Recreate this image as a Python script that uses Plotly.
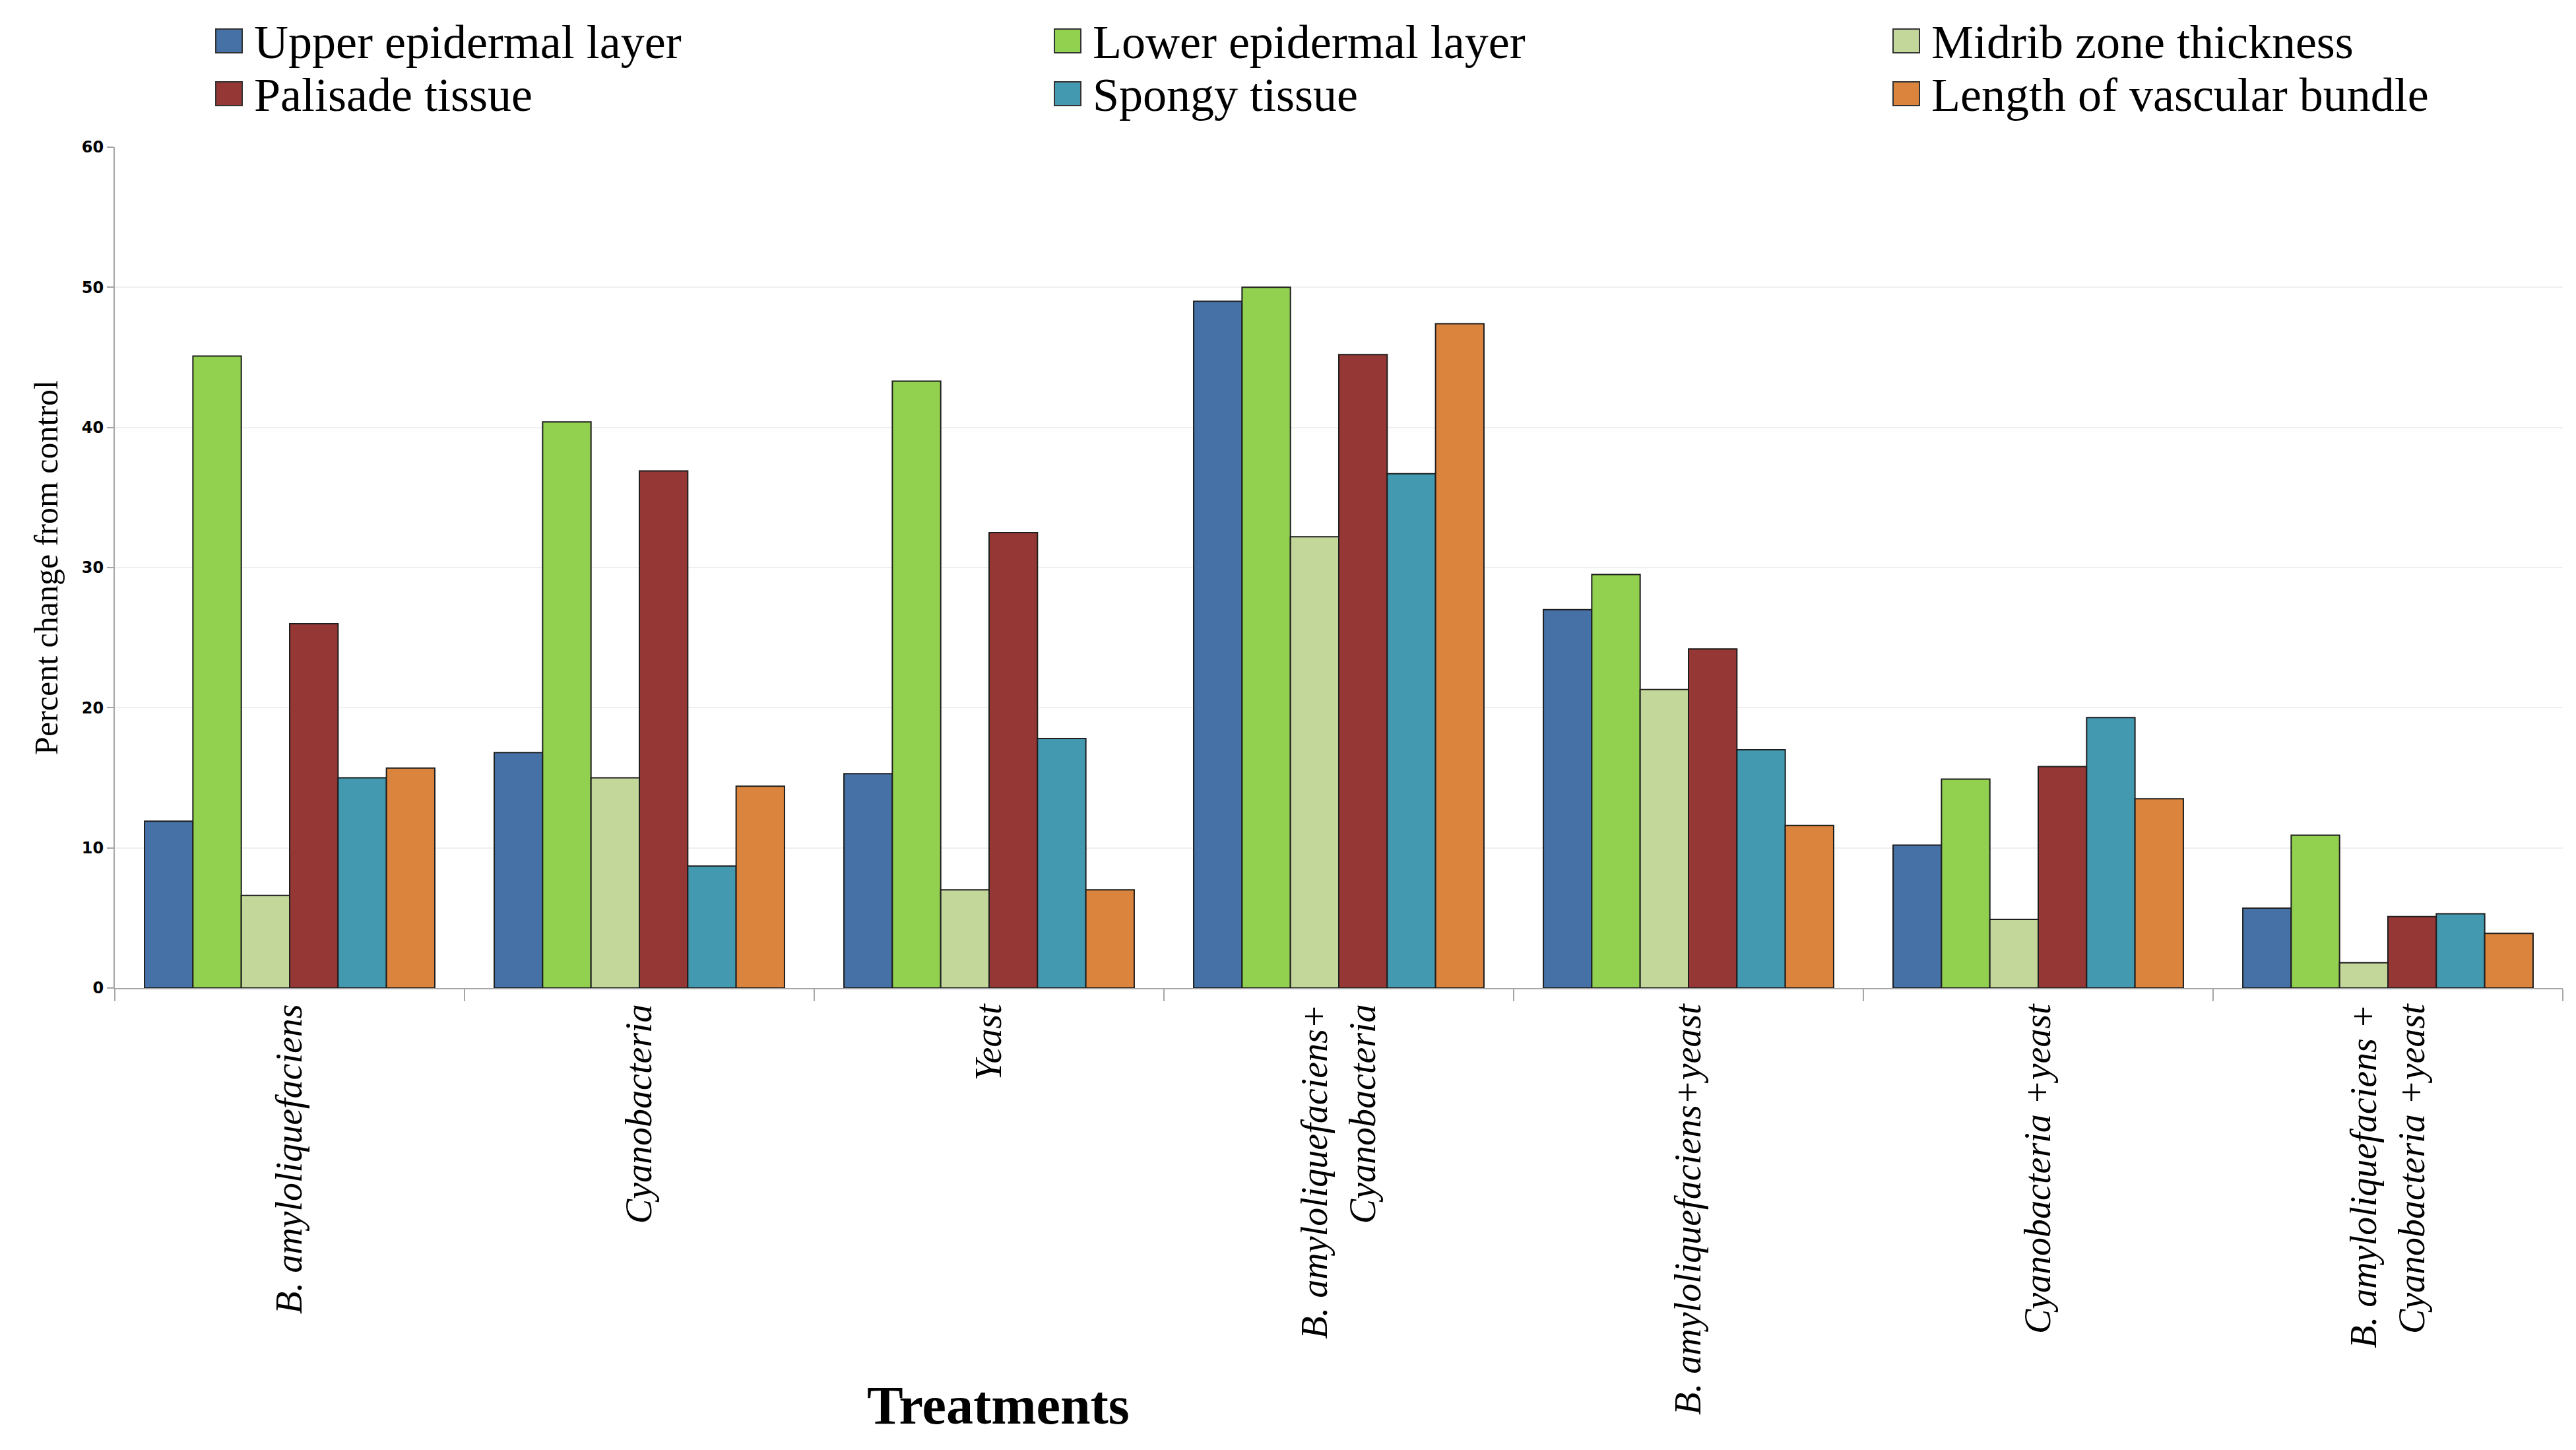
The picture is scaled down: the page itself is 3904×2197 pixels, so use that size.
import plotly.graph_objects as go

W, H = 3904, 2197
# plot area in pixels
L, R, T, B = 174, 3884, 223, 1497

categories = [
    "B. amyloliquefaciens",
    "Cyanobacteria",
    "Yeast",
    "B. amyloliquefaciens+<br>Cyanobacteria",
    "B. amyloliquefaciens+yeast",
    "Cyanobacteria +yeast",
    "B. amyloliquefaciens +<br>Cyanobacteria +yeast",
]

series_names = [
    "Upper epidermal layer",
    "Lower epidermal layer",
    "Midrib zone thickness",
    "Palisade tissue",
    "Spongy tissue",
    "Length of vascular bundle",
]

upper_epidermal = [11.9, 16.8, 15.3, 49.0, 27.0, 10.2, 5.7]
lower_epidermal = [45.1, 40.4, 43.3, 50.0, 29.5, 14.9, 10.9]
midrib_zone = [6.6, 15.0, 7.0, 32.2, 21.3, 4.9, 1.8]
palisade_tissue = [26.0, 36.9, 32.5, 45.2, 24.2, 15.8, 5.1]
spongy_tissue = [15.0, 8.7, 17.8, 36.7, 17.0, 19.3, 5.3]
vascular_bundle = [15.7, 14.4, 7.0, 47.4, 11.6, 13.5, 3.9]

series_values = [upper_epidermal, lower_epidermal, midrib_zone,
                 palisade_tissue, spongy_tissue, vascular_bundle]
colors = ["#4571A6", "#92D050", "#C4D79B", "#953735", "#4399B0", "#DB843D"]

fig = go.Figure()
for name, vals, col in zip(series_names, series_values, colors):
    fig.add_trace(go.Bar(
        x=categories, y=vals, name=name,
        marker=dict(color=col, line=dict(color="#1e1e1e", width=2)),
        showlegend=False,
    ))


def px_x(p):
    return (p - L) / (R - L)


def px_y(p):
    return (B - p) / (B - T)


serif = "Liberation Serif, Times New Roman, serif"

# manual legend (3 columns x 2 rows)
legend_cols = [327, 1598, 2869]
legend_rows = [62, 142]
shapes = []
annotations = []
for i, (name, col) in enumerate(zip(series_names, colors)):
    r, c = divmod(i, 3)
    x0 = legend_cols[c]
    yc = legend_rows[r]
    shapes.append(dict(
        type="rect", xref="paper", yref="paper",
        x0=px_x(x0), x1=px_x(x0 + 40), y0=px_y(yc + 18), y1=px_y(yc - 18),
        fillcolor=col, line=dict(color="#333333", width=2),
    ))
    annotations.append(dict(
        text=name, xref="paper", yref="paper",
        x=px_x(x0 + 56), y=px_y(yc + 2), xanchor="left", yanchor="middle",
        showarrow=False, font=dict(family=serif, size=72, color="black"),
    ))

annotations.append(dict(
    text="<b>Treatments</b>", xref="paper", yref="paper",
    x=px_x(1513), y=px_y(2129), xanchor="center", yanchor="middle",
    showarrow=False, font=dict(family=serif, size=82, color="black"),
))

fig.update_layout(
    width=W, height=H,
    margin=dict(l=L, r=W - R, t=T, b=H - B, pad=0),
    paper_bgcolor="white", plot_bgcolor="white",
    barmode="group", bargap=0.17, bargroupgap=0,
    shapes=shapes, annotations=annotations,
    showlegend=False,
)

fig.update_yaxes(
    range=[0, 60], dtick=10,
    showgrid=True, gridcolor="#efefef", gridwidth=2,
    showline=True, linecolor="#a6a6a6", linewidth=2,
    ticks="outside", ticklen=10, tickwidth=2, tickcolor="#a6a6a6",
    tickfont=dict(family="DejaVu Sans", size=24, color="black", weight="bold"),
    zeroline=False,
    title=dict(text="Percent change from control",
               font=dict(family=serif, size=50, color="black"), standoff=20),
)

fig.update_xaxes(
    showline=True, linecolor="#a6a6a6", linewidth=2,
    ticks="outside", ticklen=18, tickwidth=2, tickcolor="#a6a6a6",
    tickson="boundaries", tickangle=-90,
    tickfont=dict(family=serif, size=56, color="black", style="italic"),
    showgrid=False,
)

fig.write_html("out.html", config={"displayModeBar": False},
               post_script="document.body.style.margin='0';")
